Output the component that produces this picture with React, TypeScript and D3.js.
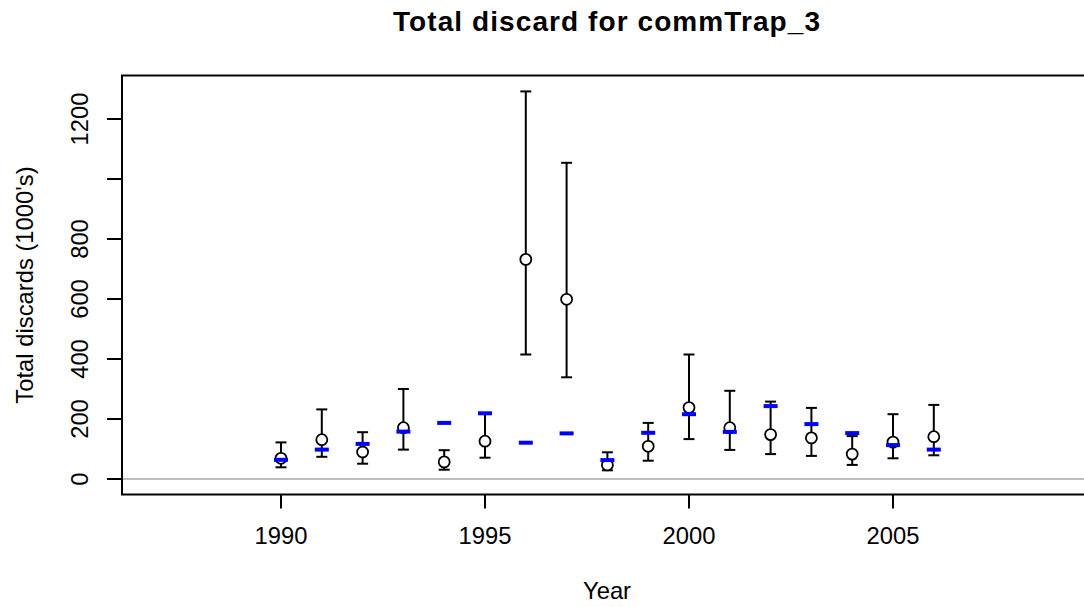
import React from "react";
import * as d3 from "d3";

const years = [1990, 1991, 1992, 1993, 1994, 1995, 1996, 1997, 1998, 1999, 2000, 2001, 2002, 2003, 2004, 2005, 2006];
const estimate = [69, 131, 90, 171, 57, 126, 732, 599, 47, 109, 238, 171, 148, 137, 83, 123, 141];
const lower = [39, 74, 51, 98, 31, 71, 415, 339, 29, 61, 133, 97, 83, 77, 47, 69, 79];
const upper = [122, 232, 156, 300, 96, 219, 1292, 1054, 89, 187, 415, 294, 258, 237, 143, 216, 247];
const observed = [64, 98, 117, 158, 187, 219, 121, 152, 63, 154, 216, 157, 243, 183, 153, 113, 98];
const xTicks = [1990, 1995, 2000, 2005];
const yTicks = [0, 200, 400, 600, 800, 1000, 1200];
const yTickLabels = ["0", "200", "400", "600", "800", "", "1200"];

const W = 1084;
const H = 607;
const left = 122;
const top = 75.5;
const bottom = 494.5;
const right = 1094;

export default function App() {
  const x = d3.scaleLinear().domain([1990, 2005]).range([281, 893]);
  const y = d3.scaleLinear().domain([0, 1200]).range([479, 119]);
  const font = "'Liberation Sans', Arial, sans-serif";
  const cap = 5.5;
  const fs = 23.8;
  return (
    <svg width={W} height={H} style={{ position: "absolute", left: 0, top: 0 }} fontFamily={font}>
      <rect x={0} y={0} width={W} height={H} fill="#fff" />
      <text x={606.5} y={31} textAnchor="middle" fontSize={28} fontWeight="bold" textLength={427} lengthAdjust="spacing">Total discard for commTrap_3</text>
      {/* zero line */}
      <line x1={left} x2={right} y1={y(0)} y2={y(0)} stroke="#BEBEBE" strokeWidth={2} />
      {/* error bars */}
      {years.map((yr, i) => (
        <g key={"e" + yr} stroke="#000" strokeWidth={2}>
          <line x1={x(yr)} x2={x(yr)} y1={y(lower[i])} y2={y(upper[i])} />
          <line x1={x(yr) - cap} x2={x(yr) + cap} y1={y(lower[i])} y2={y(lower[i])} />
          <line x1={x(yr) - cap} x2={x(yr) + cap} y1={y(upper[i])} y2={y(upper[i])} />
        </g>
      ))}
      {years.map((yr, i) => (
        <circle key={"c" + yr} cx={x(yr)} cy={y(estimate[i])} r={5.5} fill="#fff" stroke="#000" strokeWidth={1.8} />
      ))}
      {years.map((yr, i) => (
        <line key={"b" + yr} x1={x(yr) - 7} x2={x(yr) + 7} y1={y(observed[i])} y2={y(observed[i])} stroke="#0000FF" strokeWidth={4} />
      ))}
      {/* box */}
      <rect x={left} y={top} width={right - left} height={bottom - top} fill="none" stroke="#000" strokeWidth={2} />
      {/* x axis */}
      {xTicks.map((t) => (
        <g key={"x" + t}>
          <line x1={x(t)} x2={x(t)} y1={bottom} y2={bottom + 14} stroke="#000" strokeWidth={2} />
          <text x={x(t)} y={544} textAnchor="middle" fontSize={fs}>{t}</text>
        </g>
      ))}
      {/* y axis */}
      {yTicks.map((t, i) => (
        <g key={"y" + t}>
          <line x1={left - 15} x2={left} y1={y(t)} y2={y(t)} stroke="#000" strokeWidth={2} />
          {yTickLabels[i] && (
            <text transform={`translate(88,${y(t)}) rotate(-90)`} textAnchor="middle" fontSize={fs}>{yTickLabels[i]}</text>
          )}
        </g>
      ))}
      <text x={607} y={599} textAnchor="middle" fontSize={fs}>Year</text>
      <text transform={`translate(33,${(top + bottom) / 2}) rotate(-90)`} textAnchor="middle" fontSize={fs}>Total discards (1000's)</text>
    </svg>
  );
}
